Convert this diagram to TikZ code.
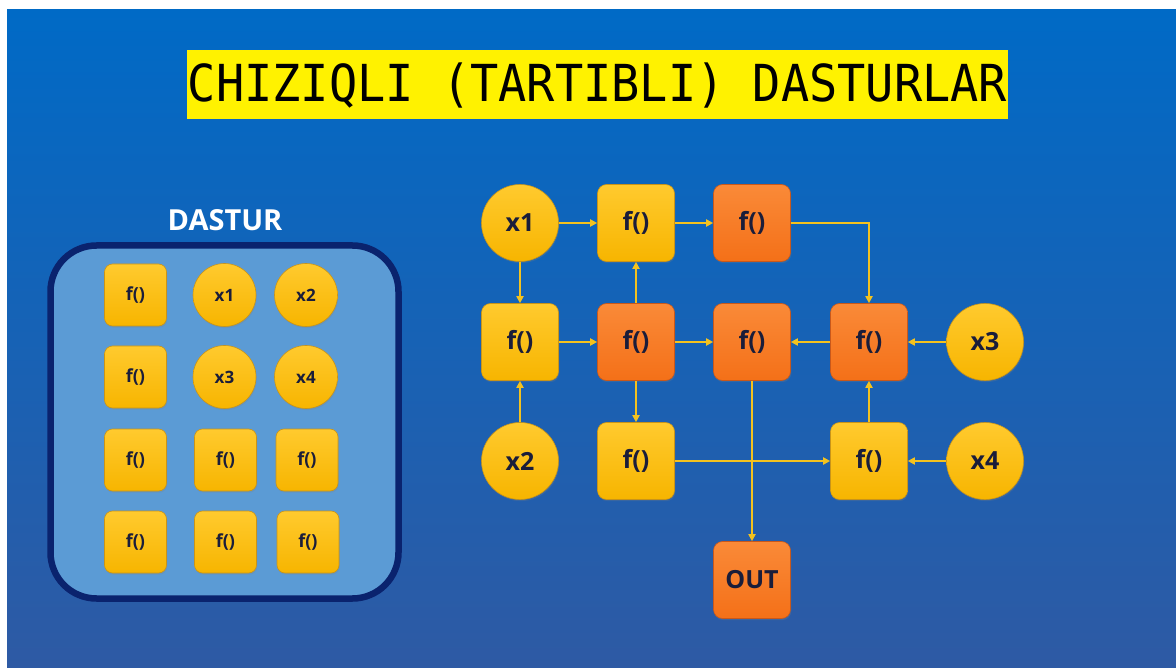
\documentclass[tikz,border=0pt]{standalone}
\usepackage{fontspec}
\usetikzlibrary{arrows.meta,shadows}
\newfontfamily\titlefont{DejaVu Sans Mono}
\newfontfamily\labelfont{Open Sans}

\definecolor{bgtop}{HTML}{006AC6}
\definecolor{bgbottom}{HTML}{2E5AA4}
\definecolor{titleyellow}{HTML}{FFF200}
\definecolor{panelfill}{HTML}{5B9BD5}
\definecolor{panelborder}{HTML}{0A236E}
\definecolor{yeltop}{HTML}{FFCA2E}
\definecolor{yelbot}{HTML}{F7B500}
\definecolor{yeledge}{HTML}{C99418}
\definecolor{orgtop}{HTML}{FA8A38}
\definecolor{orgbot}{HTML}{F47018}
\definecolor{orgedge}{HTML}{C9581A}
\definecolor{inktext}{HTML}{1A1D3A}
\definecolor{wire}{HTML}{F4C21E}

\tikzset{
  item/.style={inner sep=0pt, text=inktext, line width=0.6pt,
    drop shadow={opacity=0.25, shadow xshift=0.8pt, shadow yshift=-1.6pt}},
  yel/.style={top color=yeltop, bottom color=yelbot, draw=yeledge},
  org/.style={top color=orgtop, bottom color=orgbot, draw=orgedge},
  bigbox/.style={item, rectangle, rounded corners=9pt, minimum size=77pt,
    font=\labelfont\bfseries\fontsize{25}{30}\selectfont},
  bigdot/.style={item, circle, minimum size=77pt,
    font=\labelfont\bfseries\fontsize{25}{30}\selectfont},
  smallbox/.style={item, yel, rectangle, rounded corners=8pt, minimum size=62pt,
    font=\labelfont\bfseries\fontsize{18}{22}\selectfont},
  smalldot/.style={item, yel, circle, minimum size=63pt,
    font=\labelfont\bfseries\fontsize{17}{21}\selectfont},
  link/.style={draw=wire, line width=1.8pt,
    -{Triangle[length=7pt,width=7pt]}},
}

\begin{document}
\begin{tikzpicture}[x=1pt,y=-1pt]
  \useasboundingbox (0,0) rectangle (1176,668);
  % page and backdrop
  \fill[white] (0,0) rectangle (1176,668);
  \shade[top color=bgtop, bottom color=bgbottom] (7,10) rectangle (1176,668);

  % heading
  \node[fill=titleyellow, minimum width=821pt, minimum height=69pt, inner sep=0pt]
    (titlebar) at (597.5,84.5) {};
  \node[inner sep=0pt] (title) at (597.5,86) {\titlefont\fontsize{51}{60}\selectfont
    \scalebox{0.92}[1]{CHIZIQLI (TARTIBLI) DASTURLAR}};

  % program panel
  \node[text=white, font=\labelfont\bfseries\fontsize{29}{34}\selectfont]
    (paneltitle) at (225,220) {DASTUR};
  \draw[panelborder, line width=6.5pt, fill=panelfill, rounded corners=46pt]
    (50.5,245.5) rectangle (398.5,598.5);

  \node[smallbox] (p11) at (135.5,295) {f()};
  \node[smalldot] (p12) at (224.5,295) {x1};
  \node[smalldot] (p13) at (306,295) {x2};
  \node[smallbox] (p21) at (135.5,377) {f()};
  \node[smalldot] (p22) at (224.5,377) {x3};
  \node[smalldot] (p23) at (306,377) {x4};
  \node[smallbox] (p31) at (135.5,460) {f()};
  \node[smallbox] (p32) at (225.5,460) {f()};
  \node[smallbox] (p33) at (307,460) {f()};
  \node[smallbox] (p41) at (135.5,542) {f()};
  \node[smallbox] (p42) at (225.5,542) {f()};
  \node[smallbox] (p43) at (308,542) {f()};

  % data-flow graph
  \node[bigdot, yel] (x1)  at (520,223) {x1};
  \node[bigbox, yel] (f12) at (636,223) {f()};
  \node[bigbox, org] (f13) at (752,223) {f()};

  \node[bigbox, yel] (f21) at (520,342) {f()};
  \node[bigbox, org] (f22) at (636,342) {f()};
  \node[bigbox, org] (f23) at (752,342) {f()};
  \node[bigbox, org] (f24) at (869,342) {f()};
  \node[bigdot, yel] (x3)  at (985,342) {x3};

  \node[bigdot, yel] (x2)  at (520,461) {x2};
  \node[bigbox, yel] (f32) at (636,461) {f()};
  \node[bigbox, yel] (f34) at (869,461) {f()};
  \node[bigdot, yel] (x4)  at (985,461) {x4};

  \node[bigbox, org] (out) at (752,580) {OUT};

  % connectors
  \draw[link] (x1) -- (f12);
  \draw[link] (f12) -- (f13);
  \draw[link] (f13.east) -| (f24.north);
  \draw[link] (x1) -- (f21);
  \draw[link] (x2) -- (f21);
  \draw[link] (f21) -- (f22);
  \draw[link] (f22) -- (f12);
  \draw[link] (f22) -- (f23);
  \draw[link] (f22) -- (f32);
  \draw[link] (f24) -- (f23);
  \draw[link] (x3) -- (f24);
  \draw[link] (f34) -- (f24);
  \draw[link] (x4) -- (f34);
  \draw[link] (f32) -- (f34);
  \draw[link] (f23) -- (out);
\end{tikzpicture}
\end{document}
